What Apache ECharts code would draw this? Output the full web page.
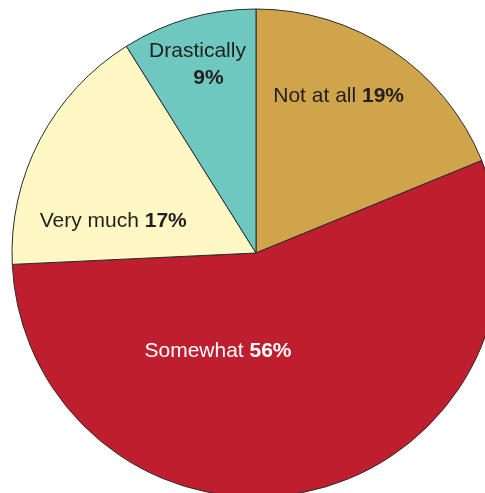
<!DOCTYPE html>
<html>
<head>
<meta charset="utf-8">
<script src="https://cdn.jsdelivr.net/npm/echarts@6/dist/echarts.min.js"></script>
<style>
html,body{margin:0;padding:0;background:#fff;}
#chart{width:485px;height:493px;}
</style>
</head>
<body>
<div id="chart"></div>
<script>
const categories = ['Not at all', 'Somewhat', 'Very much', 'Drastically'];
const values = [19, 56, 17, 9];
const colors = ['#CFA44B', '#BE1E2D', '#FFF8C4', '#6EC8BF'];
const labelColors = ['#231F20', '#FFFFFF', '#231F20', '#231F20'];
const labelBreak = [false, false, false, true];
const labelShift = [[13, -53], [-65, -24], [-32, 26], [-24, -68]];

const chart = echarts.init(document.getElementById('chart'), null, {renderer: 'canvas'});
const FONT = 'Liberation Sans, Arial, sans-serif';
const data = categories.map((c, i) => ({
  name: c,
  value: values[i],
  itemStyle: {color: colors[i]},
  label: {
    color: labelColors[i],
    formatter: '{n|' + c + '}' + (labelBreak[i] ? '\n{p|}' : '{s| }') + '{b|' + values[i] + '%}',
    rich: {
      n: {color: labelColors[i], fontSize: 21, fontFamily: FONT, lineHeight: 27},
      s: {color: labelColors[i], fontSize: 21, fontFamily: FONT, lineHeight: 27},
      p: {width: 22, fontSize: 21, lineHeight: 27},
      b: {color: labelColors[i], fontSize: 21, fontWeight: 'bold', fontFamily: FONT, lineHeight: 27}
    }
  }
}));

chart.setOption({
  animation: false,
  series: [{
    type: 'pie',
    center: [256, 253],
    radius: 244,
    startAngle: 90,
    clockwise: true,
    avoidLabelOverlap: false,
    silent: true,
    itemStyle: {borderColor: '#2b2b2b', borderWidth: 1},
    label: {show: true, position: 'inside', align: 'center'},
    labelLine: {show: false},
    labelLayout: function (p) {
      const s = labelShift[p.dataIndex];
      return {dx: s[0], dy: s[1]};
    },
    data: data
  }]
});
</script>
</body>
</html>
